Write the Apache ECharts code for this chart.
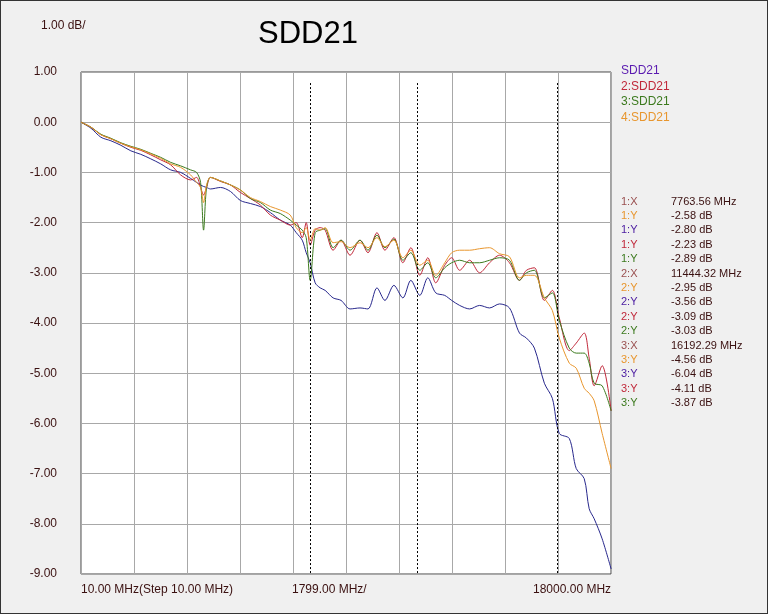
<!DOCTYPE html>
<html>
<head>
<meta charset="UTF-8">
<script src="https://cdn.jsdelivr.net/npm/echarts@6/dist/echarts.min.js"></script>
<style>
html,body{margin:0;padding:0;background:#f0f0f0;}
#chart{width:768px;height:614px;box-sizing:border-box;border:1px solid #333;}
</style>
</head>
<body>
<div id="chart"></div>
<script>
// frequency points (MHz)
var freqs = [10,386,763,1139,1516,1892,2268,2645,3021,3398,3774,4150,4376,4527,4640,4753,4903,5280,5656,6032,6409,6785,7162,7538,7914,8140,8366,8517,8667,8855,9044,9232,9533,9834,10173,10549,10850,11189,11490,11829,12168,12469,12808,13109,13410,13749,14012,14313,14690,15066,15442,15819,16195,16572,16835,17136,17513,17814,18077,18454,18717,19018,19206,19395,19696,20035];

var sdd21_1 = [0,-0.12,-0.3,-0.37,-0.46,-0.57,-0.64,-0.73,-0.83,-0.95,-1.0,-1.12,-1.2,-1.25,-1.28,-1.3,-1.33,-1.3,-1.38,-1.56,-1.62,-1.68,-1.8,-1.95,-2.05,-2.2,-2.35,-2.6,-2.8,-3.2,-3.3,-3.35,-3.5,-3.55,-3.72,-3.7,-3.72,-3.3,-3.55,-3.25,-3.5,-3.15,-3.45,-3.1,-3.4,-3.45,-3.55,-3.65,-3.72,-3.65,-3.7,-3.62,-3.7,-4.2,-4.3,-4.5,-5.2,-5.5,-6.2,-6.3,-6.9,-7.1,-7.7,-7.9,-8.3,-8.9];
var sdd21_2 = [0,-0.1,-0.25,-0.33,-0.42,-0.5,-0.56,-0.65,-0.75,-0.85,-1.05,-1.15,-1.1,-1.3,-1.45,-1.3,-1.1,-1.18,-1.25,-1.4,-1.52,-1.65,-1.85,-1.95,-2.05,-2.0,-2.3,-2.0,-2.45,-2.15,-2.1,-2.15,-2.55,-2.35,-2.65,-2.35,-2.6,-2.2,-2.55,-2.3,-2.8,-2.5,-3.05,-2.7,-3.2,-2.85,-2.7,-2.95,-2.75,-3.0,-2.8,-2.65,-2.8,-3.15,-2.95,-2.9,-3.55,-3.35,-3.9,-4.55,-4.4,-4.2,-4.7,-5.25,-4.85,-5.75];
var sdd21_3 = [0,-0.1,-0.24,-0.32,-0.41,-0.48,-0.54,-0.62,-0.7,-0.8,-0.87,-0.95,-1.0,-1.2,-2.15,-1.3,-1.1,-1.17,-1.25,-1.35,-1.52,-1.6,-1.75,-1.82,-1.95,-2.05,-2.15,-2.3,-3.15,-2.2,-2.15,-2.12,-2.5,-2.35,-2.55,-2.35,-2.55,-2.25,-2.5,-2.33,-2.75,-2.6,-2.95,-2.8,-3.1,-2.9,-2.8,-2.75,-2.8,-2.8,-2.75,-2.7,-2.75,-3.15,-3.0,-2.95,-3.5,-3.4,-3.95,-4.5,-4.6,-4.6,-4.8,-5.2,-5.25,-5.75];
var sdd21_4 = [0,-0.1,-0.25,-0.33,-0.42,-0.49,-0.55,-0.63,-0.72,-0.83,-0.9,-1.05,-1.2,-1.3,-1.6,-1.25,-1.1,-1.17,-1.25,-1.35,-1.5,-1.58,-1.68,-1.75,-1.85,-2.1,-2.2,-2.1,-2.35,-2.12,-2.15,-2.1,-2.4,-2.38,-2.5,-2.4,-2.5,-2.3,-2.48,-2.35,-2.7,-2.55,-2.85,-2.75,-3.05,-2.8,-2.6,-2.55,-2.55,-2.52,-2.5,-2.62,-2.68,-3.1,-3.05,-3.05,-3.5,-3.75,-4.3,-4.8,-4.9,-5.3,-5.4,-5.55,-6.2,-6.9];

var seriesNames = ['SDD21','2:SDD21','3:SDD21','4:SDD21'];
var colors = ['#28288c','#c0283a','#3c7a1e','#e8962e'];
var labelColors = ['#5a1ab0','#c0283a','#3c7a1e','#e8962e'];
var markerFreqs = [8670, 12730, 18000];

var markerRows = [
    ['1:X','7763.56 MHz','#9a5050'],
    ['1:Y','-2.58 dB','#e8962e'],
    ['1:Y','-2.80 dB','#4a1aa0'],
    ['1:Y','-2.23 dB','#c0283a'],
    ['1:Y','-2.89 dB','#3c7a1e'],
    ['2:X','11444.32 MHz','#9a5050'],
    ['2:Y','-2.95 dB','#e8962e'],
    ['2:Y','-3.56 dB','#4a1aa0'],
    ['2:Y','-3.09 dB','#c0283a'],
    ['2:Y','-3.03 dB','#3c7a1e'],
    ['3:X','16192.29 MHz','#9a5050'],
    ['3:Y','-4.56 dB','#e8962e'],
    ['3:Y','-6.04 dB','#4a1aa0'],
    ['3:Y','-4.11 dB','#c0283a'],
    ['3:Y','-3.87 dB','#3c7a1e']
];

function pairs(ys) {
    return freqs.map(function (f, i) { return [f, ys[i]]; });
}

var graphics = [
    {type:'text', left:40, top:19, style:{text:'1.00 dB/', fontSize:12, fill:'#3a1010', fontFamily:'Liberation Sans'}},
    {type:'text', left:257, top:18, style:{text:'SDD21', fontSize:31, fill:'#000', fontFamily:'Liberation Sans'}},
    {type:'text', left:80, top:583, style:{text:'10.00 MHz(Step 10.00 MHz)', fontSize:12, fill:'#3a1010', fontFamily:'Liberation Sans'}},
    {type:'text', left:291, top:583, style:{text:'1799.00 MHz/', fontSize:12, fill:'#3a1010', fontFamily:'Liberation Sans'}},
    {type:'text', left:532, top:583, style:{text:'18000.00 MHz', fontSize:12, fill:'#3a1010', fontFamily:'Liberation Sans'}}
];
seriesNames.forEach(function (n, i) {
    graphics.push({type:'text', left:620, top:64 + i * 15.5, style:{text:n, fontSize:12, fill:labelColors[i], fontFamily:'Liberation Sans'}});
});
markerRows.forEach(function (r, i) {
    graphics.push({type:'text', left:620, top:195 + i * 14.4, style:{text:r[0], fontSize:11, fill:r[2], fontFamily:'Liberation Sans'}});
    graphics.push({type:'text', left:670, top:195 + i * 14.4, style:{text:r[1], fontSize:11, fill:'#3a1010', fontFamily:'Liberation Sans'}});
});

var series = [sdd21_1, sdd21_2, sdd21_3, sdd21_4].map(function (d, i) {
    return {
        name: seriesNames[i], type:'line', data: pairs(d), showSymbol:false, smooth:0.3,
        lineStyle:{width:1, color:colors[i]}, z: 2 + i
    };
});
series.push({
    type:'line', data:[], silent:true,
    markLine:{
        symbol:'none', silent:true, label:{show:false},
        lineStyle:{color:'#000', type:[2,2], width:1},
        data: markerFreqs.map(function (f) { return [{coord:[f,0.78]},{coord:[f,-9]}]; })
    }
});

var chart = echarts.init(document.getElementById('chart'));
chart.setOption({
    backgroundColor:'#f0f0f0',
    animation:false,
    grid:{left:80, right:156, top:71, bottom:39, show:true, backgroundColor:'#fff', borderColor:'#444', borderWidth:1},
    xAxis:{
        type:'value', min:10, max:20030, interval:2002,
        axisLine:{show:false}, axisTick:{show:false}, axisLabel:{show:false},
        splitLine:{lineStyle:{color:'#a8a8a8', width:1}}
    },
    yAxis:{
        type:'value', min:-9, max:1, interval:1,
        axisLine:{show:false}, axisTick:{show:false},
        axisLabel:{margin:24, color:'#3a1010', fontSize:12, fontFamily:'Liberation Sans',
            formatter:function (v) { return v.toFixed(2); }},
        splitLine:{lineStyle:{color:'#a8a8a8', width:1}}
    },
    graphic: graphics,
    series: series
});
</script>
</body>
</html>
